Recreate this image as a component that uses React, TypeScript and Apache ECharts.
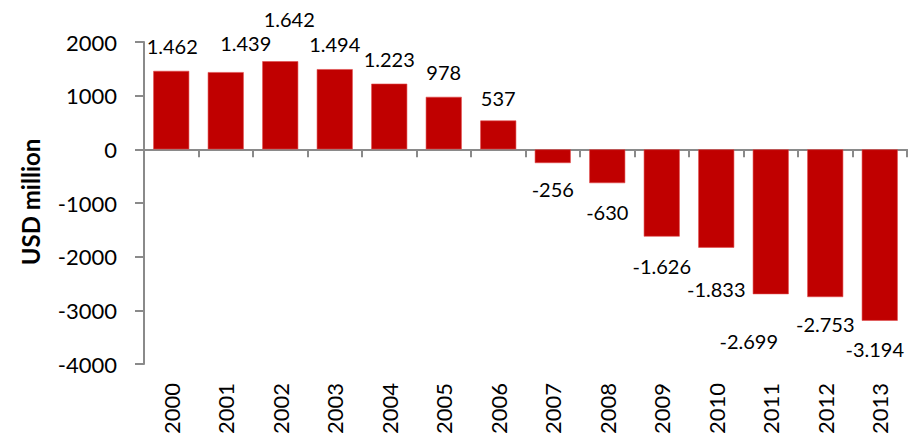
import React, { useEffect, useRef } from "react";
import * as echarts from "echarts";

const years = ["2000", "2001", "2002", "2003", "2004", "2005", "2006", "2007", "2008", "2009", "2010", "2011", "2012", "2013"];
const balance = [1462, 1439, 1642, 1494, 1223, 978, 537, -256, -630, -1626, -1833, -2699, -2753, -3194];
const yTicks = { min: -4000, max: 2000, interval: 1000 };
const axisTitle = "USD million";

// label nudges (style only), [dx, dy] in px
const labelNudge: [number, number][] = [
  [1, 0], [20, -4], [9, -17], [0, 0], [0, 0], [0, 0], [0, 2],
  [0, 1], [0, 4], [0, 4], [0, 16], [-22, 22], [0, 2], [-5, 3],
];

const FONT = "Lato, 'Open Sans', sans-serif";

function fmt(v: number): string {
  const s = Math.abs(v).toString();
  const withDots = s.replace(/\B(?=(\d{3})+(?!\d))/g, ".");
  return (v < 0 ? "-" : "") + withDots;
}

export default function App() {
  const ref = useRef<HTMLDivElement>(null);
  useEffect(() => {
    if (!ref.current) return;
    const chart = echarts.init(ref.current, null, { renderer: "svg" });
    const data = balance.map((v, i) => ({
      value: v,
      label: {
        position: v >= 0 ? "top" : "bottom",
        offset: labelNudge[i],
      },
    }));
    chart.setOption({
      animation: false,
      backgroundColor: "#ffffff",
      grid: { left: 144, right: 17, top: 42, bottom: 78, containLabel: false },
      graphic: [
        {
          type: "text",
          x: 30,
          y: 202,
          rotation: Math.PI / 2,
          style: {
            text: axisTitle,
            font: `bold 24px ${FONT}`,
            fill: "#000",
            align: "center",
            verticalAlign: "middle",
          },
        },
      ],
      xAxis: [
        {
          type: "category",
          data: years,
          axisLine: { onZero: true, lineStyle: { color: "#8a8a8a", width: 2 } },
          axisTick: { show: true, length: 8, lineStyle: { color: "#8a8a8a", width: 2 } },
          axisLabel: { show: false },
          splitLine: { show: false },
        },
        {
          type: "category",
          data: years,
          position: "bottom",
          axisLine: { show: false, onZero: false },
          axisTick: { show: false },
          axisLabel: {
            show: true,
            rotate: 90,
            margin: 19,
            fontSize: 22,
            fontFamily: FONT,
            color: "#000",
          },
          splitLine: { show: false },
        },
      ],
      yAxis: {
        type: "value",
        min: yTicks.min,
        max: yTicks.max,
        interval: yTicks.interval,
        axisLine: { show: true, lineStyle: { color: "#8a8a8a", width: 2 } },
        axisTick: { show: true, length: 9, lineStyle: { color: "#8a8a8a", width: 2 } },
        axisLabel: {
          margin: 27,
          fontSize: 22,
          fontFamily: FONT,
          color: "#000",
          formatter: (v: number) => String(v),
        },
        splitLine: { show: false },
      },
      series: [
        {
          type: "bar",
          xAxisIndex: 0,
          data,
          barWidth: "66%",
          itemStyle: { color: "#c00000", borderColor: "#e04a4a", borderWidth: 0.6 },
          label: {
            show: true,
            distance: 15,
            fontSize: 20,
            fontFamily: FONT,
            color: "#000",
            formatter: (p: any) => fmt(p.value),
          },
        },
      ],
    });
    return () => chart.dispose();
  }, []);
  return <div ref={ref} style={{ width: 924, height: 442, margin: -8 }} />;
}
